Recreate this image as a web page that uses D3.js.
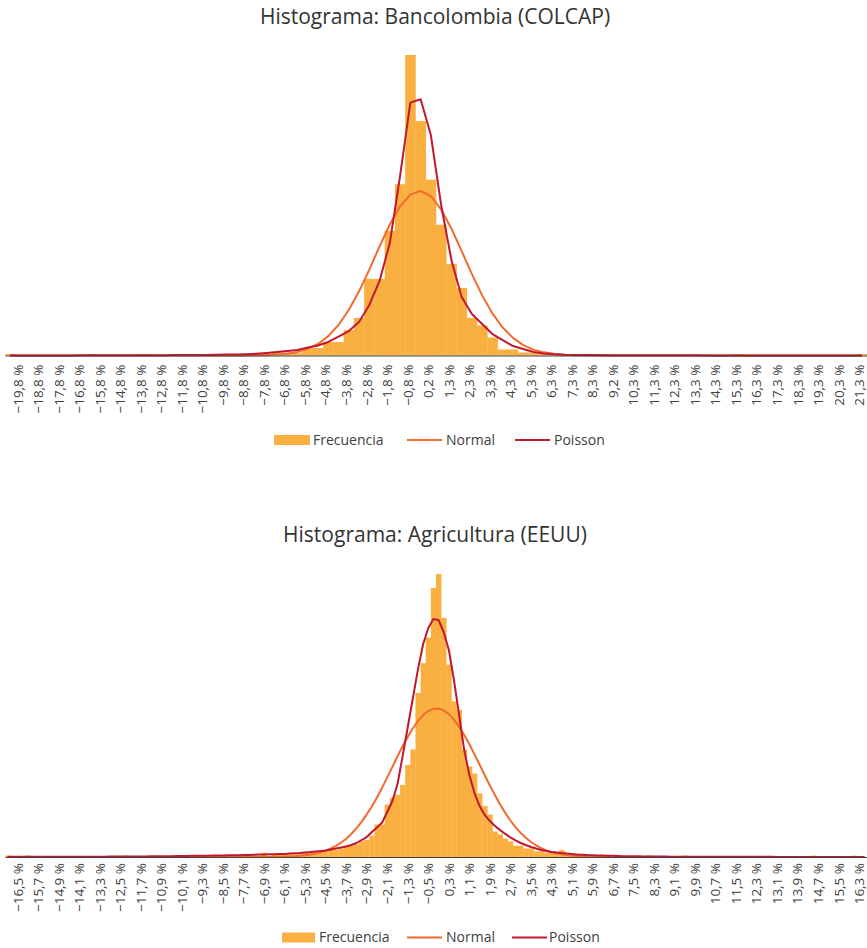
<!DOCTYPE html>
<html><head><meta charset="utf-8">
<script src="https://cdn.jsdelivr.net/npm/d3@7"></script>
<style>
body{margin:0;background:#fff}
svg{display:block}
text{font-family:"Open Sans",sans-serif;fill:#404040}
</style>
</head><body>
<svg id="c" width="867" height="948"></svg>
<script>
// ---------- Chart 1: Bancolombia (COLCAP) ----------
const topTitle = "Histograma: Bancolombia (COLCAP)";
const topTickLabels = ["−19,8 %","−18,8 %","−17,8 %","−16,8 %","−15,8 %","−14,8 %","−13,8 %","−12,8 %","−11,8 %","−10,8 %",
  "−9,8 %","−8,8 %","−7,8 %","−6,8 %","−5,8 %","−4,8 %","−3,8 %","−2,8 %","−1,8 %","−0,8 %",
  "0,2 %","1,3 %","2,3 %","3,3 %","4,3 %","5,3 %","6,3 %","7,3 %","8,3 %","9,2 %",
  "10,3 %","11,3 %","12,3 %","13,3 %","14,3 %","15,3 %","16,3 %","17,3 %","18,3 %","19,3 %","20,3 %","21,3 %"];
const topFreq = [1,0,0,0,0,0,0,0,1,0, 0,0,0,1,0,0,0,0,0,0, 1,0,1,1,1,1,2,2,2,5,
  5,9,9,17,25,51,51,83,114,200, 156,117,87,61,45,25,20,12,4,4, 2,2,1,1,1,0,0,0,1,0,
  0,0,0,0,0,0,0,0,0,0, 0,1,0,0,0,0,0,0,0,0, 0,0,0,1];
const topNormal = [0,0,0,0,0,0,0,0,0,0, 0,0,0,0,0,0,0,0,0,0, 0,0,0,
  0.05,0.11,0.27,0.6,1.2,2.4,4.4,7.7,12.9,20.3, 30.3,42.7,57.2,72.6,87.2,99.3,107.1,109.5,106,97.2,
  84.5,69.5,54.2,40,28,18.6,11.7,6.9,3.9,2.1, 1.1,0.5,0.24,0.1,0.04,
  0,0,0,0,0,0,0,0,0,0, 0,0,0,0,0,0,0,0,0,0, 0,0,0,0,0,0];
const topPoisson = [0.05,0.05,0.06,0.06,0.07,0.07,0.08,0.09,0.1,0.1,
  0.12,0.13,0.15,0.17,0.19,0.22,0.25,0.3,0.35,0.4,
  0.5,0.6,0.7,0.9,1.2,1.7,2.3,3.0,3.7,5.3,
  6.7,9,12.6,16.3,22.3,33.6,49.6,74.9,119.5,168.3,
  170.5,146.7,100.2,63.6,39,27.6,21,14.3,10.3,6.3,
  4.3,2.3,1.3,0.8,0.5,0.4,0.3,0.25,0.2,0.17,
  0.15,0.13,0.12,0.11,0.1,0.1,0.09,0.09,0.08,0.08,
  0.07,0.07,0.07,0.06,0.06,0.06,0.06,0.05,0.05,0.05,
  0.05,0.05,0.05,0.05];

// ---------- Chart 2: Agricultura (EEUU) ----------
const botTitle = "Histograma: Agricultura (EEUU)";
const botTickLabels = ["−16,5 %","−15,7 %","−14,9 %","−14,1 %","−13,3 %","−12,5 %","−11,7 %","−10,9 %","−10,1 %","−9,3 %",
  "−8,5 %","−7,7 %","−6,9 %","−6,1 %","−5,3 %","−4,5 %","−3,7 %","−2,9 %","−2,1 %","−1,3 %",
  "−0,5 %","0,3 %","1,1 %","1,9 %","2,7 %","3,5 %","4,3 %","5,1 %","5,9 %","6,7 %",
  "7,5 %","8,3 %","9,1 %","9,9 %","10,7 %","11,5 %","12,3 %","13,1 %","13,9 %","14,7 %","15,5 %","16,3 %"];
const botFreq = [1,0,0,0,1,0,0,0,0,0, 0,0,0,0,0,0,0,0,0,0, 0,0,0,1,0,0,0,0,0,0,
  0,0,0,0,0,0,0,0,1,1, 1,0,1,1,1,0,1,1,1,1, 3,1,2,2,2,2,2,2,3,3,
  3,4,5,5,5,6,8,8,9,11, 12,15,23,23,37,42,44,51,65,76,
  116,137,155,190,200,169,136,110,104,76, 64,59,45,36,30,18,16,13,11,8,
  8,6,6,4,4,3,3,3,5,1, 1,2,1,1,0,1,1,1,0,0, 0,0,0,0,0,1,0,0,0,0,
  0,0,1,0,0,0,0,0,0,0, 0,0,0,0,0,0,0,0,0,0, 0,0,0,0,0,0,0,1,0,0,
  0,0,0,0,0,1,0,0];
const botNormal = [0,0,0,0,0,0,0,0,0,0, 0,0,0,0,0,0,0,0,0,0, 0,0,0,0,0,0,0,0,0,0,
  0,0,0,0,0,0,0,0,0,0, 0,0,0,0,0,0,0,0,0,
  0.02,0.04,0.07,0.12,0.18,0.28,0.42,0.61,0.9,1.3,
  1.8,2.4,3.3,4.5,6.0,7.8,10.1,12.9,16.3,20.3,
  24.8,30.1,35.7,42.1,49.0,56.3,63.7,71.2,78.3,85.0,
  91.0,96.2,100.3,103.2,104.7,104.9,103.6,101,97.1,92.1,
  86.2,79.7,72.5,65.2,57.8,50.5,43.7,37.1,31.2,25.8,
  21.1,17.0,13.6,10.6,8.3,6.3,4.7,3.5,2.6,1.9,
  1.3,0.95,0.65,0.45,0.3,0.2,0.13,0.08,0.05,0.03,
  0,0,0,0,0,0,0,0,0,0, 0,0,0,0,0,0,0,0,0,0, 0,0,0,0,0,0,0,0,0,0,
  0,0,0,0,0,0,0,0,0,0, 0,0,0,0,0,0,0,0,0];
const botPoisson = [0.1,0.1,0.1,0.11,0.11,0.12,0.12,0.13,0.14,0.15,
  0.15,0.16,0.17,0.18,0.19,0.2,0.21,0.22,0.24,0.25,
  0.27,0.29,0.3,0.32,0.34,0.37,0.4,0.42,0.45,0.48,
  0.5,0.55,0.6,0.65,0.7,0.75,0.8,0.85,0.9,0.95,
  1.0,1.05,1.1,1.15,1.2,1.3,1.4,1.5,1.6,1.7,
  1.8,1.9,2.0,2.1,2.2,2.4,2.6,2.8,3.2,3.5,
  3.9,4.2,4.6,5.3,6.0,6.7,7.4,8.5,9.9,12,
  14.1,17.7,20.8,24.4,31.8,39.6,51.6,71.4,91.9,112.4,
  132.9,150.5,161.8,168.2,167.5,159,146.3,125.1,100.4,75.6,
  58,45.2,36,29.7,25.4,21.9,19,16.3,13.8,11.7,
  9.9,8.5,7.1,6,4.9,4.2,3.5,3.2,2.8,2.5,
  2.1,1.8,1.6,1.4,1.3,1.1,1.0,0.9,0.8,0.7,
  0.6,0.55,0.5,0.45,0.4,0.37,0.34,0.31,0.28,0.26,
  0.24,0.22,0.2,0.19,0.18,0.17,0.16,0.15,0.14,0.13,
  0.12,0.12,0.11,0.11,0.1,0.1,0.1,0.09,0.09,0.09,
  0.08,0.08,0.08,0.08,0.08,0.08,0.08,0.08,0.08,0.08,
  0.07,0.07,0.07,0.07,0.07,0.07,0.07,0.07];

const seriesNames = ["Frecuencia","Normal","Poisson"];
const COLORS = {bar:"#FAB040", normal:"#F26A2C", poisson:"#C0182F", axis:"#404040"};

const svg = d3.select("#c");

function drawChart(o){
  const g = svg.append("g");
  const n = o.freq.length;
  const x = d3.scaleBand().domain(d3.range(n)).range([5, 867]).padding(0);
  const y = d3.scaleLinear().domain([0, 200]).range([o.base, o.top]);
  const bw = x.bandwidth();

  g.append("text").attr("x", 435).attr("y", o.titleY)
    .attr("text-anchor","middle").style("font-size","21px").style("fill","#333")
    .text(o.title);

  g.append("g").selectAll("rect").data(o.freq).join("rect")
    .attr("x", (d,i)=>x(i)).attr("width", bw + 0.3)
    .attr("y", d=>y(d)).attr("height", d=>o.base - y(d))
    .attr("fill", COLORS.bar);

  const line = d3.line().x((d,i)=>x(i)+bw/2).y(d=>y(d));
  g.append("path").datum(o.normal).attr("d", line)
    .attr("fill","none").attr("stroke",COLORS.normal).attr("stroke-width",2).attr("stroke-linejoin","round");
  g.append("path").datum(o.poisson).attr("d", line)
    .attr("fill","none").attr("stroke",COLORS.poisson).attr("stroke-width",2).attr("stroke-linejoin","round");

  const tickBins = o.ticks.map((t,k)=>k*o.every + o.offset);
  const axis = d3.axisBottom(x).tickValues(tickBins)
    .tickFormat((d,i)=>o.ticks[i]).tickSize(0).tickSizeOuter(0);
  const ax = g.append("g").attr("transform",`translate(0,${o.base})`).call(axis);
  ax.select(".domain").attr("stroke", COLORS.axis).attr("stroke-width",1.2);
  ax.selectAll("text")
    .attr("transform","rotate(-90)")
    .attr("x",o.labGap).attr("y",o.labShift).attr("dy","0.35em")
    .style("text-anchor","end").style("font-size","13.5px")
    .style("font-family","'Open Sans',sans-serif").style("fill","#404040");

  // legend
  const L = g.append("g").attr("transform",`translate(0,${o.legY})`);
  L.append("rect").attr("x",o.leg[0]).attr("y",-5).attr("width",o.leg[1]-o.leg[0]).attr("height",10).attr("fill",COLORS.bar);
  L.append("text").attr("x",o.leg[2]).attr("y",0).attr("dy","0.35em").style("font-size","14px").text(seriesNames[0]);
  L.append("line").attr("x1",407).attr("x2",442).attr("y1",0).attr("y2",0).attr("stroke",COLORS.normal).attr("stroke-width",2);
  L.append("text").attr("x",446).attr("y",0).attr("dy","0.35em").style("font-size","14px").text(seriesNames[1]);
  L.append("line").attr("x1",o.leg[3]).attr("x2",o.leg[3]+35).attr("y1",0).attr("y2",0).attr("stroke",COLORS.poisson).attr("stroke-width",2);
  L.append("text").attr("x",o.leg[4]).attr("y",0).attr("dy","0.35em").style("font-size","14px").text(seriesNames[2]);
}

drawChart({title: topTitle, titleY: 24, freq: topFreq, normal: topNormal, poisson: topPoisson,
  ticks: topTickLabels, every: 2, offset: 1, base: 355.5, top: 55, legY: 440,
  labGap: -9, labShift: -2.5, leg: [274, 310, 313, 515, 554]});
drawChart({title: botTitle, titleY: 542, freq: botFreq, normal: botNormal, poisson: botPoisson,
  ticks: botTickLabels, every: 4, offset: 2, base: 857, top: 574, legY: 937.5,
  labGap: -6, labShift: 0, leg: [282, 315, 319, 512, 549]});
</script>
</body></html>
